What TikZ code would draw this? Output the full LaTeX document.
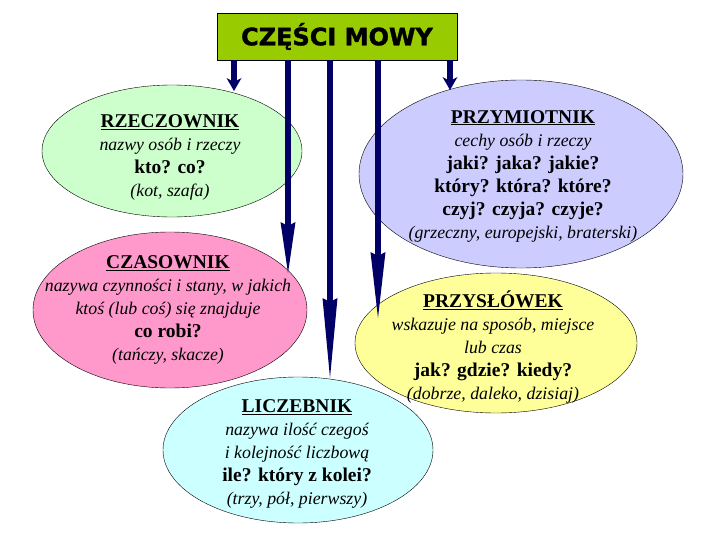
\documentclass[tikz,border=0pt]{standalone}
\usepackage{fontspec}
\setmainfont{Liberation Serif}
\newfontfamily\titlefont{DejaVu Sans Bold}[FakeBold=1.5]
\usetikzlibrary{arrows.meta,shapes.geometric}

\definecolor{tytul}{HTML}{99CC00}
\definecolor{zielony}{HTML}{CCFFCC}
\definecolor{fiolet}{HTML}{CCCCFF}
\definecolor{rozowy}{HTML}{FF99CC}
\definecolor{zolty}{HTML}{FFFF99}
\definecolor{blekit}{HTML}{CCFFFF}
\definecolor{granat}{HTML}{000066}

\newcommand\nazwa[1]{{\upshape\bfseries\fontsize{19.5}{23}\selectfont\underline{#1}}}
\newcommand\pytanie[1]{{\upshape\bfseries\fontsize{19.5}{23}\selectfont #1}}

\begin{document}
\begin{tikzpicture}[
  x=1pt, y=-1pt,
  kind/.style={ellipse, draw, thin, inner sep=0pt},
  words/.style={align=center, inner sep=0pt, font=\fontsize{17.8}{23}\selectfont\itshape},
  heading/.style={draw, thin, fill=tytul, minimum width=240pt, minimum height=47pt,
    font=\titlefont\fontsize{24}{28}\selectfont},
  pointer/.style={draw=granat, line width=5.5pt,
    -{Stealth[length=#1, width=15pt, inset=4pt, line width=0pt]}},
]
\useasboundingbox (0,0) rectangle (720,540);

%parts of speech
\node[kind, fill=zielony, minimum width=260pt, minimum height=132pt] (rzecz) at (172,151) {};
\node[kind, fill=fiolet,  minimum width=324pt, minimum height=188pt] (przym) at (521,174) {};
\node[kind, fill=rozowy,  minimum width=274pt, minimum height=156pt] (czas) at (170,310) {};
\node[kind, fill=zolty,   minimum width=282pt, minimum height=140pt] (przysl) at (496,343) {};
\node[kind, fill=blekit,  minimum width=270pt, minimum height=146pt] (licz) at (298,450) {};

%texts
\node[words] (rzecztxt) at (170,157) {\nazwa{RZECZOWNIK}\\ nazwy osób i rzeczy\\ \pytanie{kto? co?}\\ (kot, szafa)};
\node[words] (przymtxt) at (523,176) {\nazwa{PRZYMIOTNIK}\\ cechy osób i rzeczy\\ \pytanie{jaki? jaka? jakie?}\\ \pytanie{który? która? które?}\\ \pytanie{czyj? czyja? czyje?}\\ (grzeczny, europejski, braterski)};
\node[words] (czastxt) at (168,310) {\nazwa{CZASOWNIK}\\ nazywa czynności i stany, w jakich\\ ktoś (lub coś) się znajduje\\ \pytanie{co robi?}\\ (tańczy, skacze)};
\node[words] (przysltxt) at (493,347.5) {\nazwa{PRZYSŁÓWEK}\\ wskazuje na sposób, miejsce\\ lub czas\\ \pytanie{jak? gdzie? kiedy?}\\ (dobrze, daleko, dzisiaj)};
\node[words] (licztxt) at (297,454) {\nazwa{LICZEBNIK}\\ nazywa ilość czegoś\\ i kolejność liczbową\\ \pytanie{ile? który z kolei?}\\ (trzy, pół, pierwszy)};

%title
\node[heading] (title) at (337,36.5) {CZĘŚCI MOWY};

%arrow tips
\coordinate (rzecztip)  at (234,91);
\coordinate (przymtip)  at (450,90);
\coordinate (czastip)   at (288,273);
\coordinate (licztip)   at (330,378);
\coordinate (przysltip) at (378,318);

%arrows
\draw[pointer=13pt] (title.south -| rzecztip) -- (rzecztip);
\draw[pointer=13pt] (title.south -| przymtip) -- (przymtip);
\draw[pointer=51pt] (title.south -| czastip) -- (czastip);
\draw[pointer=80pt] (title.south -| licztip) -- (licztip);
\draw[pointer=66pt] (title.south -| przysltip) -- (przysltip);

\end{tikzpicture}
\end{document}
